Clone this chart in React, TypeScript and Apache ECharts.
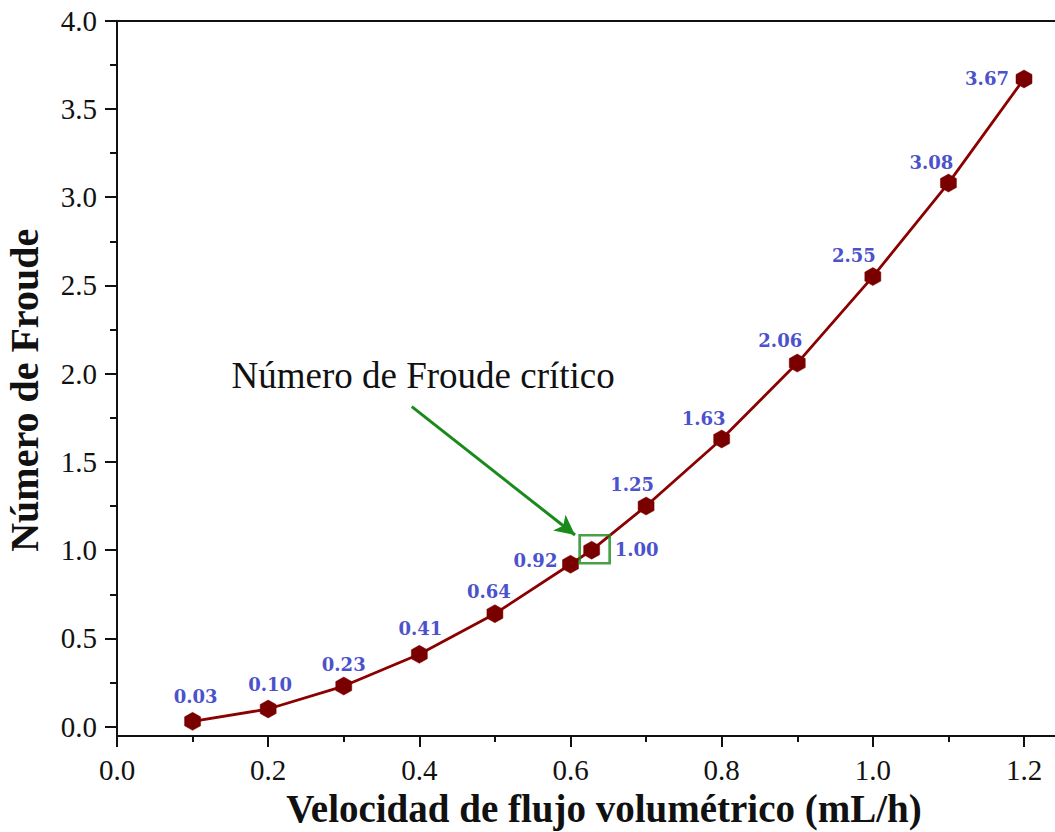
import React, { useEffect, useRef } from "react";
import * as echarts from "echarts";

// Volumetric flow rate (mL/h) and the Froude number measured at each rate
const flowRates = [0.1, 0.2, 0.3, 0.4, 0.5, 0.6, 0.628, 0.7, 0.8, 0.9, 1.0, 1.1, 1.2];
const froudeNumbers = [0.03, 0.1, 0.23, 0.41, 0.64, 0.92, 1.0, 1.25, 1.63, 2.06, 2.55, 3.08, 3.67];
const criticalIndex = 6;

// Axis ticks
const xMajorTicks = [0, 0.2, 0.4, 0.6, 0.8, 1.0, 1.2];
const xMinorTicks = [0.1, 0.3, 0.5, 0.7, 0.9, 1.1];
const yMajorTicks = [0, 0.5, 1.0, 1.5, 2.0, 2.5, 3.0, 3.5, 4.0];
const yMinorTicks = [0.25, 0.75, 1.25, 1.75, 2.25, 2.75, 3.25, 3.75];

// Annotation of the critical point
const annotationText = "Número de Froude crítico";
const annotationAnchor = [0.405, 1.99];
const arrowStart = [0.39, 1.813];
const arrowEnd = [0.606, 1.086];

// Value label placement (pixel offset from each marker centre)
const labelOffsets = [
  [3, -25], [2, -24], [0, -22], [1, -26], [-6, -22], [-35, -4], [45, -1],
  [-14, -22], [-18, -20], [-17, -23], [-19, -21], [-17, -21], [-37, 0],
];

const X_MIN = 0;
const X_MAX = 1.241;
const Y_MIN = -0.053;
const Y_MAX = 4.0;

const SERIF = "'Liberation Serif', 'Times New Roman', serif";
const LABEL_FONT = "'DejaVu Serif', Cambria, serif";
const AXIS_COLOR = "#111111";
const LINE_COLOR = "#8B0000";
const MARKER_COLOR = "#7A0000";
const VALUE_COLOR = "#4B52CC";
const GREEN = "#1A8A1A";

const HEXAGON = "path://M0,-1 L0.866,-0.5 L0.866,0.5 L0,1 L-0.866,0.5 L-0.866,-0.5 Z";

function buildOption() {
  const points = flowRates.map((x, i) => ({
    value: [x, froudeNumbers[i]],
    label: { offset: labelOffsets[i] },
  }));

  const baseX = { type: "value", min: X_MIN, max: X_MAX, splitLine: { show: false } };
  const baseY = { type: "value", min: Y_MIN, max: Y_MAX, splitLine: { show: false } };

  return {
    animation: false,
    backgroundColor: "#ffffff",
    grid: { left: 117, top: 20.7, right: 0, bottom: 96, containLabel: false, outerBoundsMode: "none" },
    xAxis: [
      {
        ...baseX,
        position: "bottom",
        name: "Velocidad de flujo volumétrico (mL/h)",
        nameLocation: "middle",
        nameGap: 51,
        nameTextStyle: {
          fontFamily: SERIF,
          fontWeight: "bold",
          fontSize: 39,
          color: AXIS_COLOR,
          padding: [0, 0, 0, 36],
        },
        axisLine: { show: true, onZero: false, lineStyle: { color: AXIS_COLOR, width: 2 } },
        axisTick: { show: true, inside: false, length: 11, customValues: xMajorTicks, lineStyle: { color: AXIS_COLOR, width: 2 } },
        axisLabel: {
          show: true,
          customValues: xMajorTicks,
          margin: 19,
          formatter: (v: number) => v.toFixed(1),
          fontFamily: SERIF,
          fontSize: 29,
          color: AXIS_COLOR,
        },
      },
      {
        ...baseX,
        position: "bottom",
        axisLine: { show: false, onZero: false },
        axisTick: { show: true, inside: false, length: 6, customValues: xMinorTicks, lineStyle: { color: AXIS_COLOR, width: 2 } },
        axisLabel: { show: false },
      },
      {
        ...baseX,
        position: "top",
        axisLine: { show: true, onZero: false, lineStyle: { color: AXIS_COLOR, width: 2 } },
        axisTick: { show: false },
        axisLabel: { show: false },
      },
    ],
    yAxis: [
      {
        ...baseY,
        position: "left",
        name: "Número de Froude",
        nameLocation: "middle",
        nameGap: 73,
        nameTextStyle: {
          fontFamily: SERIF,
          fontWeight: "bold",
          fontSize: 40,
          color: AXIS_COLOR,
          padding: [0, 24, 0, 0],
        },
        axisLine: { show: true, onZero: false, lineStyle: { color: AXIS_COLOR, width: 2 } },
        axisTick: { show: true, inside: false, length: 12, customValues: yMajorTicks, lineStyle: { color: AXIS_COLOR, width: 2 } },
        axisLabel: {
          show: true,
          customValues: yMajorTicks,
          margin: 20,
          formatter: (v: number) => v.toFixed(1),
          fontFamily: SERIF,
          fontSize: 29,
          color: AXIS_COLOR,
        },
      },
      {
        ...baseY,
        position: "left",
        axisLine: { show: false, onZero: false },
        axisTick: { show: true, inside: false, length: 7, customValues: yMinorTicks, lineStyle: { color: AXIS_COLOR, width: 2 } },
        axisLabel: { show: false },
      },
    ],
    series: [
      {
        type: "line",
        xAxisIndex: 0,
        yAxisIndex: 0,
        data: points,
        symbol: HEXAGON,
        symbolSize: [16, 18],
        showAllSymbol: true,
        lineStyle: { color: LINE_COLOR, width: 2.8 },
        itemStyle: { color: MARKER_COLOR, borderColor: MARKER_COLOR, borderWidth: 0.5 },
        label: {
          show: true,
          position: "inside",
          formatter: (p: any) => p.value[1].toFixed(2),
          fontFamily: LABEL_FONT,
          fontWeight: "bold",
          fontSize: 18,
          color: VALUE_COLOR,
        },
        emphasis: { disabled: true },
        z: 3,
        markLine: {
          silent: true,
          symbol: ["none", "arrow"],
          symbolSize: [15, 20],
          label: { show: false },
          lineStyle: { color: GREEN, width: 3, type: "solid" },
          data: [[{ coord: arrowStart }, { coord: arrowEnd }]],
        },
        markPoint: {
          silent: true,
          symbol: "circle",
          symbolSize: 0,
          label: {
            show: true,
            position: "inside",
            formatter: annotationText,
            fontFamily: SERIF,
            fontSize: 37,
            color: AXIS_COLOR,
          },
          data: [{ coord: annotationAnchor }],
        },
      },
      {
        type: "scatter",
        xAxisIndex: 0,
        yAxisIndex: 0,
        data: [[flowRates[criticalIndex], froudeNumbers[criticalIndex]]],
        symbol: "rect",
        symbolSize: [30, 28],
        symbolOffset: [3, -1],
        itemStyle: { color: "rgba(0,0,0,0)", borderColor: GREEN, borderWidth: 2.6 },
        emphasis: { disabled: true },
        silent: true,
        z: 4,
      },
    ],
  };
}

export default function App() {
  const ref = useRef<HTMLDivElement>(null);

  useEffect(() => {
    if (!ref.current) return;
    const chart = echarts.init(ref.current, null, { renderer: "svg" });
    chart.setOption(buildOption() as any);
    return () => chart.dispose();
  }, []);

  return (
    <div
      ref={ref}
      style={{ position: "absolute", left: 0, top: 0, width: 1055, height: 832, background: "#ffffff" }}
    />
  );
}
